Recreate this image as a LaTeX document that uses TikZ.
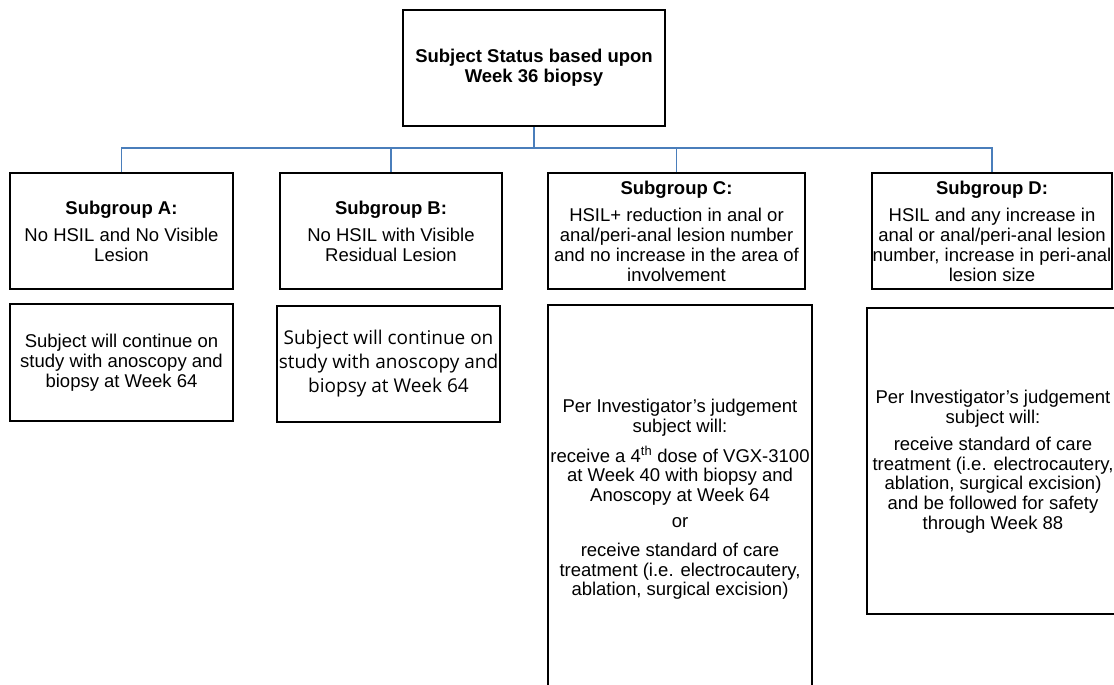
\documentclass[tikz,border=0pt]{standalone}
\usepackage{fontspec}
\setmainfont{Liberation Sans}
\newfontfamily\altfont{Open Sans}
\definecolor{connblue}{HTML}{4A7EBB}
\begin{document}
\begin{tikzpicture}[x=1pt,y=-1pt,
  box/.style={draw=black, line width=1.6pt, align=center, inner sep=0pt,
    font=\fontsize{18.5}{20}\selectfont},
  conn/.style={draw=connblue, line width=1.6pt},
  txt/.style={align=center, inner sep=0pt, font=\fontsize{18.5}{19.6}\selectfont}]
\useasboundingbox (0,0) rectangle (1114,685);
\begin{scope}
\clip (0,0) rectangle (1114,685);
\node[box, minimum width=262, minimum height=116] (top) at (534,68)
  {\textbf{Subject Status based upon}\\\textbf{Week 36 biopsy}};
\node[box, minimum width=223, minimum height=116] (A) at (121.5,231)
  {\textbf{Subgroup A:}\\[7pt]No HSIL and No Visible\\Lesion};
\node[box, minimum width=222, minimum height=116] (B) at (391,231)
  {\textbf{Subgroup B:}\\[7pt]No HSIL with Visible\\Residual Lesion};
\node[box, minimum width=257, minimum height=116] (C) at (676.5,231)
  {\textbf{Subgroup C:}\\[7pt]HSIL+ reduction in anal or\\anal/peri-anal lesion number\\and no increase in the area of\\involvement};
\node[box, minimum width=240, minimum height=116] (D) at (992,231)
  {\textbf{Subgroup D:}\\[7pt]HSIL and any increase in\\anal or anal/peri-anal lesion\\number, increase in peri-anal\\lesion size};
\node[box, minimum width=223, minimum height=117] (A2) at (121.5,362.5)
  {Subject will continue on\\study with anoscopy and\\biopsy at Week 64};
\node[box, minimum width=223, minimum height=116, font=\altfont\fontsize{19}{24}\selectfont] (B2) at (388.5,364)
  {Subject will continue on\\study with anoscopy and\\biopsy at Week 64};
\node[box, minimum width=264, minimum height=400] (C2) at (680,505) {};
\node[txt] (C2t) at (680,499.5)
  {Per Investigator’s judgement\\subject will:\\[10pt]receive a 4\textsuperscript{th} dose of VGX-3100\\at Week 40 with biopsy and\\Anoscopy at Week 64\\[7pt]or\\[9pt]receive standard of care\\treatment (i.e. electrocautery,\\ablation, surgical excision)};
\node[box, minimum width=252, minimum height=306] (D2) at (993,461) {};
\node[txt] (D2t) at (993,461.5)
  {Per Investigator’s judgement\\subject will:\\[8pt]receive standard of care\\treatment (i.e. electrocautery,\\ablation, surgical excision)\\and be followed for safety\\through Week 88};
\end{scope}
\coordinate (bus) at (0,148);
\draw[conn] (top.south) -- (top.south |- bus);
\draw[conn] (A.north) -- (A.north |- bus) -- (D.north |- bus) -- (D.north);
\draw[conn] (B.north) -- (B.north |- bus);
\draw[conn] (C.north) -- (C.north |- bus);
\end{tikzpicture}
\end{document}
